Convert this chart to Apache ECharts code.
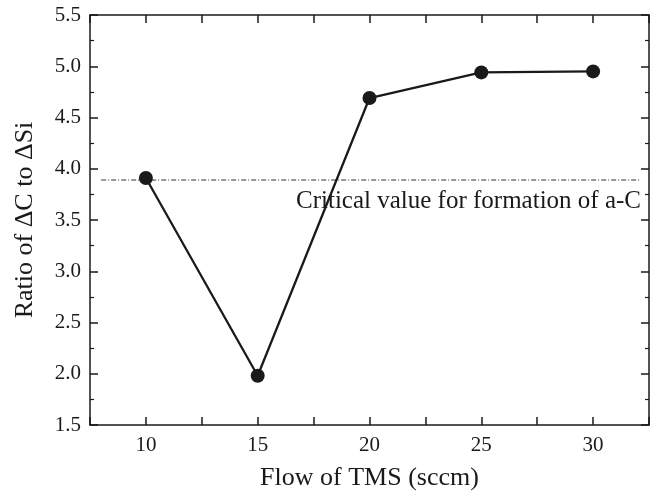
<!DOCTYPE html>
<html><head><meta charset="utf-8">
<script src="https://cdn.jsdelivr.net/npm/echarts@6/dist/echarts.min.js"></script>
<style>html,body{margin:0;padding:0;background:#fff}#c{width:661px;height:496px}</style>
</head><body><div id="c"></div>
<script>
const flow = [10, 15, 20, 25, 30];
const ratio = [3.91, 1.98, 4.69, 4.94, 4.95];
const criticalValue = 3.89;
const criticalX = [8.0, 32.1];
const annotation = 'Critical value for formation of a-C';
const xTitle = 'Flow of TMS (sccm)';
const yTitle = 'Ratio of ΔC to ΔSi';

const FONT = 'Liberation Serif';
const INK = '#1a1a1a';
const chart = echarts.init(document.getElementById('c'));
const axisCommon = {
  axisLine: {show: true, onZero: false, lineStyle: {color: INK, width: 1.5}},
  axisTick: {show: true, inside: true, length: 8, lineStyle: {color: INK, width: 1.5}},
  minorTick: {show: true, splitNumber: 2, length: 4, lineStyle: {color: INK, width: 1.2}},
  splitLine: {show: false}
};
chart.setOption({
  animation: false,
  grid: {left: 90, right: 12, top: 15, bottom: 71, containLabel: false},
  xAxis: [
    Object.assign({type: 'value', min: 7.5, max: 32.5, interval: 2.5,
      name: xTitle, nameLocation: 'middle', nameGap: 40,
      nameTextStyle: {fontFamily: FONT, fontSize: 26, color: INK},
      axisLabel: {fontFamily: FONT, fontSize: 21, color: INK, margin: 10,
        formatter: v => (v % 5 === 0 ? String(v) : '')}}, axisCommon,
      {minorTick: {show: false}}),
    Object.assign({type: 'value', position: 'top', min: 7.5, max: 32.5, interval: 2.5,
      axisLabel: {show: false}}, axisCommon, {minorTick: {show: false}})
  ],
  yAxis: [
    Object.assign({type: 'value', min: 1.5, max: 5.5, interval: 0.5,
      name: yTitle, nameLocation: 'middle', nameGap: 52,
      nameTextStyle: {fontFamily: FONT, fontSize: 26, color: INK},
      axisLabel: {fontFamily: FONT, fontSize: 21, color: INK, margin: 9,
        formatter: v => v.toFixed(1)}}, axisCommon),
    Object.assign({type: 'value', position: 'right', min: 1.5, max: 5.5, interval: 0.5,
      axisLabel: {show: false}}, axisCommon)
  ],
  series: [
    {type: 'line', data: criticalX.map(x => [x, criticalValue]), symbol: 'none',
      lineStyle: {color: '#333', width: 1, type: [5, 2, 1, 2]}, z: 1, silent: true},
    {type: 'line', data: flow.map((x, i) => [x, ratio[i]]), symbol: 'circle', symbolSize: 14,
      itemStyle: {color: INK}, lineStyle: {color: INK, width: 2.3}, z: 3}
  ],
  graphic: [{type: 'text', left: 296, top: 189,
    style: {text: annotation, font: '25px "Liberation Serif"', fill: INK}}]
});
</script></body></html>
